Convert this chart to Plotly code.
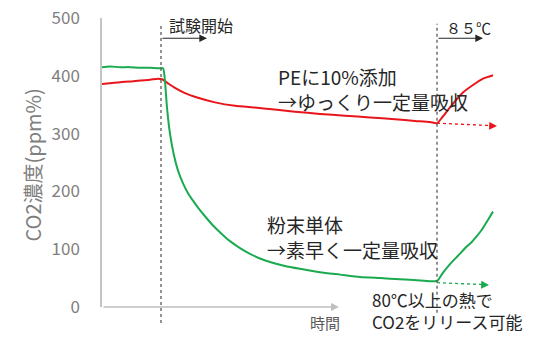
import plotly.graph_objects as go

# ---- data (time in arbitrary units, CO2 in ppm) ----
t_green = [0, 8, 18, 28, 38, 48, 56, 61, 63, 65, 68, 72, 76, 81, 86, 91, 96, 103,
           111, 120, 128, 138, 148, 158, 168, 183, 198, 218, 238, 258, 278, 298, 318, 335,
           340, 345, 350, 355, 360, 365, 370, 375, 380, 385, 391]
v_green = [415, 416, 415, 415, 414, 414, 413, 413, 390, 345, 300, 262, 236, 214, 197,
           184, 172, 157, 141, 126, 114, 102, 92, 84, 78, 71, 66, 60, 56, 52, 50, 48, 46, 45,
           57, 68, 78, 87, 96, 105, 113, 123, 134, 148, 165]

t_red = [0, 8, 18, 28, 38, 48, 56, 60, 66, 73, 83, 96, 113, 133, 153, 170, 193, 218, 243,
         268, 293, 313, 328, 335, 341, 351, 361, 371, 381, 391]
v_red = [386, 387, 389, 390, 392, 393, 395, 394, 387, 379, 370, 362, 354, 348, 345, 342,
         338, 334, 331, 328, 325, 322, 320, 318, 330, 352, 371, 384, 395, 401]

test_start = 59
heat_start = 335
axis_end = 237

y_title = "CO2濃度(ppm%)"
labels_pe = ["PEに10%添加", "→ゆっくり一定量吸収"]
labels_powder = ["粉末単体", "→素早く一定量吸収"]
labels_release = ["80℃以上の熱で", "CO2をリリース可能"]

RED = "#E8161B"
GREEN = "#1AAA50"
FONT = "Noto Sans CJK JP"

fig = go.Figure()
fig.add_trace(go.Scatter(x=t_red, y=v_red, mode="lines",
                         line=dict(color=RED, width=2, shape="spline", smoothing=0.6),
                         showlegend=False))
fig.add_trace(go.Scatter(x=t_green, y=v_green, mode="lines",
                         line=dict(color=GREEN, width=2, shape="spline", smoothing=0.6),
                         showlegend=False))

# dotted vertical markers
for xv, ybot in [(test_start, -0.055), (heat_start, -0.02)]:
    fig.add_shape(type="line", xref="x", yref="paper", x0=xv, x1=xv, y0=ybot, y1=0.98,
                  line=dict(color="#595959", width=1.3, dash="dot"))

# dotted projection arrows
fig.add_shape(type="line", xref="x", yref="y", x0=heat_start, y0=318, x1=388, y1=314,
              line=dict(color=RED, width=1.3, dash="dot"))
fig.add_shape(type="line", xref="x", yref="y", x0=heat_start, y0=42, x1=380, y1=39,
              line=dict(color=GREEN, width=1.3, dash="dot"))

ann = []
# arrow heads for dotted projections
ann.append(dict(x=395, y=313, ax=386, ay=313.6, xref="x", yref="y", axref="x", ayref="y",
                text="", showarrow=True, arrowhead=2, arrowwidth=1.3, arrowsize=1.2, arrowcolor=RED))
ann.append(dict(x=387, y=38, ax=378, ay=38.6, xref="x", yref="y", axref="x", ayref="y",
                text="", showarrow=True, arrowhead=2, arrowwidth=1.3, arrowsize=1.2, arrowcolor=GREEN))
# black arrows
for x0, x1 in [(test_start, test_start + 46), (heat_start, heat_start + 46)]:
    ann.append(dict(x=x1, y=465, ax=x0, ay=465, xref="x", yref="y", axref="x", ayref="y",
                    text="", showarrow=True, arrowhead=2, arrowwidth=1.1, arrowsize=1.4,
                    arrowcolor="#262626"))
# x axis with arrow
ann.append(dict(x=axis_end, y=0, ax=0, ay=0, xref="x", yref="y", axref="x", ayref="y",
                text="", showarrow=True, arrowhead=2, arrowwidth=1.6, arrowsize=1.0,
                arrowcolor="#BFBFBF"))

def txt(x, y, s, size, color="#262626", yref="y"):
    return dict(x=x, y=y, xref="x", yref=yref, text=s, showarrow=False, xanchor="left",
                yanchor="middle", align="left", font=dict(family=FONT, size=size, color=color))

ann.append(txt(65, 488, "試験開始", 16))
ann.append(txt(342, 483, "８５℃", 15))
ann.append(txt(174, 377, "<br>".join(labels_pe), 19))
ann.append(txt(163, 121, "<br>".join(labels_powder), 19))
ann.append(txt(268, -0.011, "<br>".join(labels_release), 17, yref="paper"))
ann.append(dict(x=223, y=-0.055, xref="x", yref="paper", text="時間", showarrow=False,
                xanchor="center", yanchor="middle", font=dict(family=FONT, size=15, color="#595959")))
# y axis title
ann.append(dict(x=-0.161, y=0.49, xref="paper", yref="paper", text=y_title, showarrow=False,
                textangle=-90, xanchor="center", yanchor="middle",
                font=dict(family=FONT, size=20, color="#7F7F7F")))

fig.update_layout(
    width=536, height=343,
    margin=dict(l=102, r=0, t=18, b=36),
    plot_bgcolor="white", paper_bgcolor="white",
    annotations=ann,
    xaxis=dict(range=[0, 434], visible=False),
    yaxis=dict(range=[0, 500], tickvals=[0, 100, 200, 300, 400, 500],
               showgrid=False, zeroline=False, showline=True, linecolor="#C4C4C4", linewidth=1.5,
               ticks="", ticklabelstandoff=17,
               tickfont=dict(family=FONT, size=17, color="#7F7F7F")),
    font=dict(family=FONT),
)

fig.write_html("out.html")
